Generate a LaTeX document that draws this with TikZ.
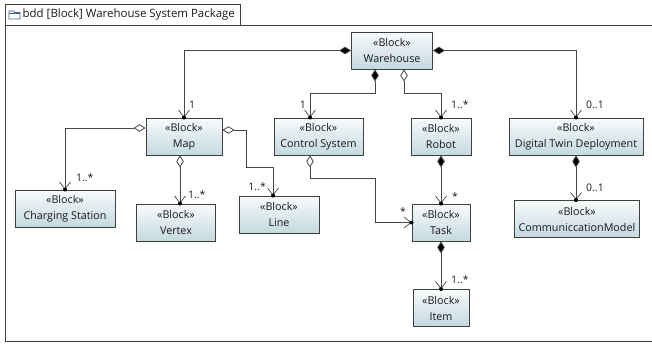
\documentclass[tikz,border=0pt]{standalone}
\usepackage{fontspec}
\setmainfont{Open Sans}
\usetikzlibrary{arrows.meta,decorations.markings}
\definecolor{blockTop}{RGB}{248,251,252}
\definecolor{blockBot}{RGB}{196,217,225}
\definecolor{edgeC}{RGB}{64,64,64}
\definecolor{wireC}{RGB}{70,70,70}
\definecolor{folderC}{RGB}{60,100,150}
\begin{document}
\begin{tikzpicture}[x=1bp,y=-1bp,
  font=\fontsize{10.8}{16}\selectfont,
  >={Straight Barb[length=7bp,width=11bp,line width=0.7bp]},
  block/.style={draw=edgeC, line width=0.9bp, top color=blockTop, bottom color=blockBot,
    minimum width=#1, minimum height=37bp, inner sep=0pt, align=center, text=black!90},
  link/.style={draw=wireC, line width=0.8bp,
    postaction={decorate,decoration={markings,
      mark=at position 1 with {\fill[black] (0,0) circle (2bp);}}}},
  comp/.style={link, {Diamond[length=12bp,width=7.5bp,fill=black]}->},
  aggr/.style={link, {Diamond[open,length=12bp,width=7.5bp,fill=white]}->},
  mult/.style={font=\fontsize{10.5}{11}\selectfont, inner sep=1pt, text=black!90}
]
\useasboundingbox (0,0) rectangle (652,343);

% package frame and its name tab
\draw[edgeC, line width=1bp] (5,25) -- (660,25);
\draw[edgeC, line width=1bp] (5,25) -- (5,341) -- (660,341);
\draw[edgeC, line width=0.8bp] (5,25) -- (5,4) -- (240,4) -- (240,25);
\draw[folderC, line width=0.7bp] (9,11) -- (9,19) -- (20,19) -- (20,12.5) -- (14.5,12.5) -- (13.5,11) -- cycle;
\draw[folderC, line width=0.7bp] (9,13) -- (20,13);
\node[anchor=west, inner sep=0pt, font=\fontsize{11.5}{13}\selectfont, text=black!90] (title) at (22.5,15)
  {bdd [Block] Warehouse System Package};

% blocks
\node[block=81bp] (W)   at (392,50.5) {«Block»\\Warehouse};
\node[block=76bp] (Map) at (184,136.5) {«Block»\\Map};
\node[block=89bp] (CS)  at (318.5,136.5) {«Block»\\Control System};
\node[block=60bp] (Rob) at (441,136.5) {«Block»\\Robot};
\node[block=134bp] (DTD) at (576,136.5) {«Block»\\Digital Twin Deployment};
\node[block=100bp] (ChS) at (65,208.5) {«Block»\\Charging Station};
\node[block=79bp] (Vtx) at (176,222.5) {«Block»\\Vertex};
\node[block=80bp] (Ln)  at (279,214.5) {«Block»\\Line};
\node[block=58bp] (Task) at (441,222.5) {«Block»\\Task};
\node[block=125bp] (CM) at (577,219) {«Block»\\CommuniccationModel};
\node[block=56bp] (Item) at (441,308) {«Block»\\Item};

% associations
\draw[comp] (W.west) -| (Map.north);
\draw[comp] (W.south -| 375,0) |- (310,93) -- (CS.north -| 310,0);
\draw[aggr] (W.south -| 404,0) |- (441,93) -- (Rob.north);
\draw[comp] (W.east) -| (DTD.north);
\draw[aggr] (Map.west |- 0,128) -| (ChS.north);
\draw[aggr] (Map.south -| 180,0) -- (Vtx.north -| 180,0);
\draw[aggr] (Map.east |- 0,130) -| (246,167) -| (Ln.north -| 273,0);
\draw[aggr] (CS.south -| 310,0) |- (375,178) |- (Task.west);
\draw[comp] (Rob.south) -- (Task.north);
\draw[comp] (DTD.south) -- (CM.north -| DTD.south);
\draw[comp] (Task.south) -- (Item.north);

% multiplicities
\node[mult, anchor=west] at (188,105) {1};
\node[mult, anchor=east] at (307,105) {1};
\node[mult, anchor=west] at (450,105) {1..*};
\node[mult, anchor=west] at (585,105) {0..1};
\node[mult, anchor=west] at (75,178) {1..*};
\node[mult, anchor=west] at (187,195) {1..*};
\node[mult, anchor=east] at (267,187) {1..*};
\node[mult] at (403,212) {*};
\node[mult, anchor=west] at (451,197) {*};
\node[mult, anchor=west] at (585,188) {0..1};
\node[mult, anchor=west] at (450,280) {1..*};
\end{tikzpicture}
\end{document}
